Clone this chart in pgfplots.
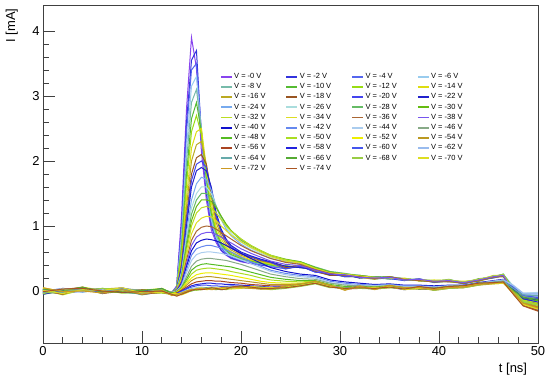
\documentclass[border=0pt]{standalone}
\usepackage{fontspec}
\setmainfont{Liberation Sans}
\usepackage{pgfplots}
\usepackage{pgfplotstable}
\pgfplotsset{compat=1.18}
\definecolor{c0}{HTML}{8844EE}\definecolor{c2}{HTML}{3333DD}\definecolor{c4}{HTML}{5566EE}\definecolor{c6}{HTML}{99CCEE}
\definecolor{c8}{HTML}{77BBAA}\definecolor{c10}{HTML}{55BB33}\definecolor{c12}{HTML}{99DD11}\definecolor{c14}{HTML}{DDDD11}
\definecolor{c16}{HTML}{BBAA22}\definecolor{c18}{HTML}{995522}\definecolor{c20}{HTML}{4444EE}\definecolor{c22}{HTML}{2222CC}
\definecolor{c24}{HTML}{77AAEE}\definecolor{c26}{HTML}{AADDDD}\definecolor{c28}{HTML}{66BB66}\definecolor{c30}{HTML}{66BB11}
\definecolor{c32}{HTML}{BBDD22}\definecolor{c34}{HTML}{DDDD22}\definecolor{c36}{HTML}{AA6633}\definecolor{c38}{HTML}{7755EE}
\definecolor{c40}{HTML}{1111CC}\definecolor{c42}{HTML}{6688EE}\definecolor{c44}{HTML}{AACCEE}\definecolor{c46}{HTML}{88AA88}
\definecolor{c48}{HTML}{55BB22}\definecolor{c50}{HTML}{AADD22}\definecolor{c52}{HTML}{EEEE00}\definecolor{c54}{HTML}{BB9922}
\definecolor{c56}{HTML}{AA4422}\definecolor{c58}{HTML}{2222DD}\definecolor{c60}{HTML}{4455EE}\definecolor{c62}{HTML}{99BBEE}
\definecolor{c64}{HTML}{66AAAA}\definecolor{c66}{HTML}{55AA33}\definecolor{c68}{HTML}{99CC44}\definecolor{c70}{HTML}{DDDD22}
\definecolor{c72}{HTML}{CC9922}\definecolor{c74}{HTML}{AA5522}
\pgfplotstableread{
t v0 v2 v4 v6 v8 v10 v12 v14 v16 v18 v20 v22 v24 v26 v28 v30 v32 v34 v36 v38 v40 v42 v44 v46 v48 v50 v52 v54 v56 v58 v60 v62 v64 v66 v68 v70 v72 v74
0 0.01 -0.03 0.02 -0.01 0.03 -0.02 0.00 0.04 -0.04 0.02 -0.01 0.03 -0.03 0.01 0.00 -0.05 0.02 0.05 -0.02 0.01 -0.04 0.03 0.00 -0.02 0.02 -0.03 0.04 -0.01 0.01 -0.05 0.02 0.00 -0.02 0.03 -0.04 0.01 0.05 -0.01
2 -0.03 0.01 -0.04 0.02 -0.01 0.03 -0.05 0.00 0.02 -0.03 0.04 -0.02 0.01 -0.04 0.03 0.00 -0.06 -0.01 0.02 -0.03 0.01 -0.02 0.04 -0.04 0.00 0.02 -0.03 0.03 -0.05 0.01 -0.01 0.03 -0.02 0.00 0.02 -0.04 -0.01 0.03
4 0.04 0.02 0.00 0.05 0.01 -0.01 0.03 0.06 0.00 0.04 0.02 0.05 -0.02 0.03 0.01 0.04 0.02 0.00 0.06 0.01 0.03 0.05 -0.01 0.02 0.04 0.00 0.03 0.01 0.05 0.02 0.04 -0.01 0.03 0.06 0.01 0.02 0.00 0.04
6 -0.01 0.03 0.01 -0.03 0.02 0.00 -0.04 0.01 0.03 -0.02 0.00 -0.03 0.04 -0.01 0.02 -0.02 0.01 0.03 -0.04 0.00 0.02 -0.01 0.03 -0.03 0.01 0.04 -0.02 0.00 -0.01 0.03 -0.03 0.02 0.00 -0.02 0.04 0.01 -0.03 0.00
8 0.02 -0.01 0.04 0.01 -0.02 0.03 0.02 -0.03 0.05 0.00 0.03 0.01 -0.01 0.04 0.02 0.03 -0.02 0.01 0.00 0.05 -0.01 0.02 0.01 0.04 -0.03 0.02 0.00 0.03 0.02 -0.02 0.04 0.01 0.03 -0.01 0.00 0.05 0.02 -0.02
10 -0.03 -0.05 0.00 -0.02 -0.04 0.01 -0.03 -0.01 -0.05 0.02 -0.02 -0.04 0.00 -0.03 -0.06 -0.01 0.01 -0.04 -0.02 -0.03 0.00 -0.05 -0.02 0.01 -0.03 -0.04 -0.01 -0.02 -0.05 0.00 -0.03 -0.01 -0.04 0.01 -0.02 -0.03 -0.05 -0.01
12 0.01 -0.02 0.03 0.00 0.02 -0.03 0.01 0.04 -0.01 0.02 0.00 -0.02 0.03 0.01 -0.01 0.02 0.04 -0.02 0.01 0.00 0.03 -0.01 0.02 0.00 0.04 -0.03 0.01 0.02 -0.02 0.03 0.00 0.01 -0.01 0.03 0.02 -0.02 0.01 0.00
13 -0.03 -0.05 -0.02 -0.04 -0.03 -0.05 -0.02 -0.04 -0.03 -0.05 -0.02 -0.04 -0.03 -0.05 -0.02 -0.04 -0.03 -0.05 -0.02 -0.04 -0.03 -0.05 -0.02 -0.04 -0.03 -0.05 -0.04 -0.06 -0.05 -0.06 -0.05 -0.04 -0.05 -0.03 -0.06 -0.04 -0.07 -0.05
13.5 0.08 0.05 0.06 0.04 0.05 0.03 0.04 0.03 0.03 0.02 0.03 0.02 0.02 0.02 0.02 0.01 0.02 0.01 0.01 0.00 0.00 -0.01 0.00 -0.01 -0.01 -0.02 -0.02 -0.03 -0.03 -0.04 -0.04 -0.05 -0.06 -0.05 -0.07 -0.04 -0.05 -0.08
14 1.17 1.00 0.95 0.85 0.75 0.65 0.60 0.50 0.45 0.40 0.38 0.35 0.30 0.28 0.25 0.22 0.20 0.18 0.15 0.13 0.12 0.10 0.08 0.06 0.05 0.04 0.03 0.02 0.01 0.00 -0.01 -0.02 -0.04 -0.05 -0.03 -0.06 -0.03 -0.05
14.5 2.81 2.60 2.45 2.20 2.00 1.80 1.65 1.45 1.30 1.15 1.10 1.00 0.90 0.82 0.75 0.68 0.62 0.55 0.48 0.42 0.38 0.33 0.28 0.22 0.18 0.15 0.12 0.09 0.06 0.04 0.03 0.01 -0.01 -0.02 0.00 -0.03 0.00 -0.02
15 3.90 3.55 3.40 3.15 2.90 2.65 2.45 2.20 2.00 1.80 1.70 1.60 1.40 1.28 1.18 1.08 1.00 0.88 0.78 0.70 0.62 0.55 0.47 0.38 0.32 0.26 0.20 0.16 0.11 0.08 0.06 0.04 0.02 0.00 0.03 0.01 0.02 0.01
15.5 3.43 3.70 3.50 3.30 3.10 2.90 2.70 2.45 2.25 2.05 1.95 1.85 1.65 1.50 1.40 1.30 1.20 1.05 0.92 0.83 0.74 0.65 0.56 0.46 0.38 0.32 0.25 0.20 0.14 0.10 0.08 0.05 0.03 0.02 0.01 0.04 0.02 0.03
16 2.15 2.40 2.45 2.45 2.50 2.45 2.40 2.50 2.30 2.10 2.00 1.90 1.75 1.60 1.50 1.40 1.28 1.12 0.98 0.88 0.78 0.68 0.59 0.49 0.41 0.34 0.27 0.21 0.15 0.11 0.09 0.06 0.04 0.03 0.02 0.05 0.04 0.02
16.5 1.40 1.50 1.60 1.65 1.70 1.75 1.80 1.90 1.95 1.95 1.90 1.85 1.72 1.60 1.50 1.40 1.30 1.15 1.00 0.90 0.80 0.70 0.60 0.50 0.42 0.35 0.28 0.22 0.16 0.12 0.09 0.05 0.03 0.05 0.04 0.02 0.04 0.03
17 0.94 1.00 1.05 1.10 1.15 1.20 1.25 1.35 1.45 1.50 1.55 1.60 1.55 1.50 1.45 1.38 1.28 1.14 0.99 0.90 0.79 0.70 0.60 0.50 0.41 0.35 0.28 0.22 0.16 0.12 0.08 0.06 0.04 0.03 0.05 0.03 0.02 0.05
17.5 0.74 0.78 0.80 0.82 0.85 0.90 0.92 0.98 1.05 1.12 1.15 1.20 1.30 1.30 1.30 1.28 1.20 1.08 0.95 0.87 0.77 0.68 0.59 0.49 0.40 0.34 0.27 0.21 0.15 0.11 0.08 0.05 0.03 0.02 0.04 0.05 0.03 0.04
18 0.62 0.63 0.66 0.68 0.70 0.72 0.75 0.80 0.85 0.90 0.92 0.95 1.10 1.12 1.15 1.15 1.10 1.00 0.90 0.83 0.74 0.66 0.58 0.48 0.39 0.33 0.26 0.20 0.15 0.11 0.07 0.04 0.02 0.04 0.03 0.04 0.05 0.02
18.5 0.55 0.56 0.58 0.60 0.62 0.63 0.65 0.68 0.72 0.76 0.78 0.80 0.95 0.98 1.02 1.03 1.00 0.93 0.85 0.78 0.70 0.63 0.56 0.47 0.38 0.32 0.25 0.19 0.14 0.10 0.07 0.05 0.03 0.05 0.02 0.04 0.06 0.03
19 0.50 0.51 0.52 0.54 0.55 0.56 0.58 0.60 0.63 0.66 0.68 0.70 0.85 0.88 0.92 0.93 0.92 0.86 0.80 0.74 0.66 0.60 0.54 0.45 0.37 0.30 0.24 0.18 0.13 0.10 0.08 0.06 0.05 0.06 0.04 0.03 0.05 0.06
20 0.45 0.46 0.47 0.48 0.49 0.50 0.51 0.53 0.55 0.57 0.58 0.60 0.72 0.75 0.78 0.80 0.80 0.76 0.70 0.65 0.58 0.52 0.48 0.41 0.33 0.27 0.21 0.16 0.12 0.09 0.07 0.05 0.05 0.07 0.06 0.04 0.05 0.08
21 0.42 0.43 0.44 0.45 0.46 0.46 0.47 0.48 0.50 0.52 0.53 0.54 0.63 0.66 0.69 0.70 0.70 0.67 0.62 0.58 0.50 0.45 0.42 0.36 0.29 0.24 0.18 0.14 0.10 0.08 0.06 0.05 0.04 0.05 0.06 0.07 0.04 0.06
22 0.40 0.40 0.41 0.42 0.42 0.43 0.44 0.45 0.46 0.47 0.48 0.49 0.56 0.58 0.61 0.62 0.62 0.60 0.56 0.52 0.43 0.38 0.36 0.31 0.25 0.20 0.15 0.12 0.09 0.07 0.06 0.04 0.04 0.03 0.05 0.06 0.03 0.04
23 0.37 0.38 0.38 0.39 0.40 0.40 0.41 0.42 0.43 0.44 0.44 0.45 0.50 0.52 0.54 0.55 0.55 0.53 0.50 0.46 0.36 0.32 0.30 0.26 0.21 0.17 0.13 0.10 0.08 0.06 0.05 0.04 0.03 0.04 0.02 0.05 0.03 0.04
24.5 0.35 0.38 0.34 0.37 0.36 0.39 0.35 0.37 0.38 0.36 0.34 0.38 0.45 0.47 0.48 0.49 0.48 0.46 0.44 0.41 0.30 0.27 0.25 0.22 0.18 0.15 0.12 0.10 0.08 0.07 0.06 0.05 0.05 0.07 0.04 0.06 0.08 0.05
26 0.38 0.36 0.39 0.37 0.40 0.36 0.38 0.39 0.37 0.40 0.38 0.36 0.42 0.44 0.45 0.45 0.44 0.43 0.41 0.39 0.26 0.24 0.22 0.19 0.16 0.14 0.12 0.11 0.10 0.09 0.08 0.09 0.08 0.10 0.07 0.09 0.11 0.08
27.5 0.30 0.33 0.29 0.32 0.31 0.34 0.30 0.32 0.33 0.30 0.29 0.33 0.35 0.36 0.37 0.36 0.35 0.34 0.33 0.32 0.24 0.22 0.20 0.18 0.16 0.15 0.14 0.13 0.12 0.13 0.12 0.14 0.12 0.14 0.11 0.13 0.15 0.12
29 0.27 0.25 0.28 0.26 0.24 0.27 0.25 0.28 0.26 0.24 0.27 0.25 0.29 0.30 0.30 0.29 0.28 0.28 0.27 0.26 0.17 0.15 0.13 0.12 0.10 0.09 0.08 0.07 0.08 0.06 0.07 0.08 0.06 0.08 0.05 0.07 0.09 0.06
30.5 0.23 0.26 0.22 0.25 0.24 0.22 0.25 0.23 0.26 0.24 0.22 0.25 0.26 0.27 0.27 0.26 0.25 0.26 0.24 0.25 0.14 0.12 0.10 0.09 0.07 0.05 0.04 0.05 0.03 0.04 0.05 0.03 0.04 0.02 0.05 0.03 0.01 0.04
32 0.22 0.20 0.23 0.21 0.24 0.22 0.20 0.23 0.21 0.24 0.22 0.20 0.23 0.24 0.23 0.24 0.22 0.23 0.22 0.21 0.12 0.10 0.09 0.08 0.06 0.07 0.05 0.06 0.04 0.07 0.05 0.06 0.05 0.07 0.04 0.06 0.08 0.05
33.5 0.19 0.22 0.20 0.18 0.21 0.19 0.22 0.20 0.18 0.21 0.20 0.22 0.21 0.20 0.22 0.21 0.20 0.21 0.19 0.20 0.10 0.09 0.08 0.07 0.05 0.04 0.06 0.03 0.05 0.04 0.03 0.05 0.04 0.06 0.03 0.05 0.02 0.04
35 0.21 0.19 0.22 0.20 0.18 0.22 0.20 0.19 0.22 0.21 0.19 0.20 0.22 0.21 0.20 0.22 0.21 0.20 0.22 0.21 0.11 0.10 0.09 0.08 0.07 0.06 0.08 0.05 0.07 0.06 0.08 0.07 0.06 0.08 0.05 0.07 0.09 0.06
36.5 0.17 0.19 0.18 0.16 0.19 0.17 0.18 0.20 0.17 0.18 0.16 0.19 0.19 0.18 0.19 0.18 0.17 0.19 0.18 0.17 0.09 0.08 0.07 0.06 0.05 0.04 0.03 0.05 0.04 0.02 0.04 0.05 0.03 0.05 0.04 0.02 0.05 0.03
38 0.18 0.16 0.17 0.19 0.16 0.18 0.17 0.15 0.18 0.17 0.19 0.16 0.17 0.18 0.17 0.16 0.18 0.17 0.16 0.18 0.09 0.08 0.07 0.06 0.05 0.06 0.04 0.05 0.03 0.05 0.06 0.04 0.05 0.03 0.06 0.04 0.05 0.07
39.5 0.14 0.16 0.15 0.13 0.16 0.14 0.15 0.17 0.14 0.15 0.13 0.16 0.15 0.16 0.15 0.14 0.16 0.15 0.14 0.15 0.08 0.07 0.06 0.05 0.03 0.02 0.04 0.01 0.03 0.02 0.04 0.03 0.02 0.04 0.01 0.03 0.02 0.04
41 0.16 0.14 0.17 0.15 0.16 0.18 0.15 0.16 0.14 0.17 0.16 0.15 0.16 0.17 0.16 0.15 0.17 0.16 0.15 0.16 0.09 0.08 0.08 0.07 0.06 0.05 0.07 0.04 0.06 0.05 0.07 0.06 0.05 0.07 0.04 0.06 0.05 0.07
42.5 0.12 0.14 0.13 0.11 0.14 0.12 0.13 0.15 0.12 0.13 0.11 0.14 0.13 0.14 0.13 0.12 0.14 0.13 0.12 0.13 0.09 0.08 0.08 0.07 0.07 0.06 0.08 0.05 0.07 0.06 0.08 0.07 0.06 0.08 0.05 0.07 0.06 0.08
44 0.17 0.15 0.18 0.16 0.17 0.19 0.16 0.17 0.15 0.18 0.17 0.16 0.17 0.18 0.17 0.16 0.18 0.17 0.16 0.17 0.13 0.12 0.12 0.11 0.11 0.10 0.12 0.09 0.11 0.10 0.12 0.11 0.10 0.12 0.09 0.11 0.10 0.12
45.5 0.21 0.23 0.22 0.20 0.23 0.21 0.22 0.24 0.21 0.22 0.20 0.23 0.22 0.23 0.22 0.21 0.23 0.22 0.21 0.22 0.16 0.15 0.15 0.14 0.13 0.12 0.14 0.11 0.13 0.12 0.14 0.15 0.14 0.12 0.13 0.11 0.12 0.13
46.5 0.24 0.22 0.25 0.23 0.24 0.26 0.23 0.24 0.22 0.25 0.24 0.23 0.24 0.25 0.26 0.24 0.25 0.24 0.23 0.24 0.18 0.17 0.17 0.16 0.14 0.13 0.15 0.12 0.14 0.13 0.15 0.17 0.15 0.13 0.14 0.12 0.13 0.14
47.5 0.02 0.06 0.00 0.04 0.03 -0.01 0.05 0.02 0.00 0.03 0.07 0.01 0.06 0.08 0.05 0.04 0.02 0.01 0.00 -0.02 0.05 0.07 0.09 0.04 0.02 0.00 -0.03 -0.01 -0.04 0.03 0.06 0.08 0.04 0.01 -0.02 -0.04 -0.03 -0.05
48.5 -0.18 -0.12 -0.20 -0.15 -0.14 -0.21 -0.10 -0.16 -0.19 -0.13 -0.08 -0.17 -0.06 -0.04 -0.09 -0.11 -0.14 -0.16 -0.18 -0.20 -0.10 -0.06 -0.03 -0.08 -0.12 -0.16 -0.20 -0.18 -0.22 -0.12 -0.07 -0.04 -0.06 -0.10 -0.17 -0.21 -0.19 -0.23
50 -0.28 -0.20 -0.30 -0.22 -0.21 -0.29 -0.15 -0.24 -0.27 -0.19 -0.12 -0.25 -0.06 -0.02 -0.10 -0.13 -0.18 -0.22 -0.25 -0.29 -0.14 -0.08 -0.03 -0.10 -0.15 -0.20 -0.27 -0.24 -0.30 -0.17 -0.10 -0.04 -0.07 -0.13 -0.22 -0.28 -0.26 -0.31
}\data
\begin{document}
\begin{tikzpicture}
\begin{axis}[
  scale only axis, width=495bp, height=338bp,
  xmin=0, xmax=50, ymin=-0.8, ymax=4.4,
  xtick={0,10,20,30,40,50}, ytick={0,1,2,3,4},
  minor x tick num=4, minor y tick num=4,
  tick pos=left, tick align=inside,
  major tick length=12bp, minor tick length=6bp,
  axis line style={black!75, line width=0.6bp},
  every tick/.style={black!75, line width=0.6bp},
  /pgf/number format/assume math mode=true,
  tick label style={font=\fontsize{13}{13}\selectfont},
  xlabel={t [ns]}, ylabel={I [mA]},
  label style={font=\fontsize{13}{13}\selectfont},
  xlabel style={at={(rel axis cs:0.985,-0.05)}, anchor=north east},
  ylabel style={at={(rel axis cs:-0.044,1)}, anchor=south east},
  every axis plot/.append style={line width=1bp, mark=none},
  legend columns=4,
  legend cell align=left,
  legend image code/.code={\draw[line width=1.8bp] (0bp,0bp) -- (11bp,0bp);},
  legend style={at={(0.357,0.803)}, anchor=north west, draw=none, fill=none,
    font=\fontsize{7.5}{7.5}\selectfont, inner sep=0bp, row sep=0.5bp,
    nodes={inner sep=1.5bp},
    /tikz/every even column/.append style={column sep=18.5bp}},
]
\addplot[c0] table[x=t,y=v0]{\data}; \addlegendentry{V = -0 V}
\addplot[c2] table[x=t,y=v2]{\data}; \addlegendentry{V = -2 V}
\addplot[c4] table[x=t,y=v4]{\data}; \addlegendentry{V = -4 V}
\addplot[c6] table[x=t,y=v6]{\data}; \addlegendentry{V = -6 V}
\addplot[c8] table[x=t,y=v8]{\data}; \addlegendentry{V = -8 V}
\addplot[c10] table[x=t,y=v10]{\data}; \addlegendentry{V = -10 V}
\addplot[c12] table[x=t,y=v12]{\data}; \addlegendentry{V = -12 V}
\addplot[c14] table[x=t,y=v14]{\data}; \addlegendentry{V = -14 V}
\addplot[c16] table[x=t,y=v16]{\data}; \addlegendentry{V = -16 V}
\addplot[c18] table[x=t,y=v18]{\data}; \addlegendentry{V = -18 V}
\addplot[c20] table[x=t,y=v20]{\data}; \addlegendentry{V = -20 V}
\addplot[c22] table[x=t,y=v22]{\data}; \addlegendentry{V = -22 V}
\addplot[c24] table[x=t,y=v24]{\data}; \addlegendentry{V = -24 V}
\addplot[c26] table[x=t,y=v26]{\data}; \addlegendentry{V = -26 V}
\addplot[c28] table[x=t,y=v28]{\data}; \addlegendentry{V = -28 V}
\addplot[c30] table[x=t,y=v30]{\data}; \addlegendentry{V = -30 V}
\addplot[c32] table[x=t,y=v32]{\data}; \addlegendentry{V = -32 V}
\addplot[c34] table[x=t,y=v34]{\data}; \addlegendentry{V = -34 V}
\addplot[c36] table[x=t,y=v36]{\data}; \addlegendentry{V = -36 V}
\addplot[c38] table[x=t,y=v38]{\data}; \addlegendentry{V = -38 V}
\addplot[c40] table[x=t,y=v40]{\data}; \addlegendentry{V = -40 V}
\addplot[c42] table[x=t,y=v42]{\data}; \addlegendentry{V = -42 V}
\addplot[c44] table[x=t,y=v44]{\data}; \addlegendentry{V = -44 V}
\addplot[c46] table[x=t,y=v46]{\data}; \addlegendentry{V = -46 V}
\addplot[c48] table[x=t,y=v48]{\data}; \addlegendentry{V = -48 V}
\addplot[c50] table[x=t,y=v50]{\data}; \addlegendentry{V = -50 V}
\addplot[c52] table[x=t,y=v52]{\data}; \addlegendentry{V = -52 V}
\addplot[c54] table[x=t,y=v54]{\data}; \addlegendentry{V = -54 V}
\addplot[c56] table[x=t,y=v56]{\data}; \addlegendentry{V = -56 V}
\addplot[c58] table[x=t,y=v58]{\data}; \addlegendentry{V = -58 V}
\addplot[c60] table[x=t,y=v60]{\data}; \addlegendentry{V = -60 V}
\addplot[c62] table[x=t,y=v62]{\data}; \addlegendentry{V = -62 V}
\addplot[c64] table[x=t,y=v64]{\data}; \addlegendentry{V = -64 V}
\addplot[c66] table[x=t,y=v66]{\data}; \addlegendentry{V = -66 V}
\addplot[c68] table[x=t,y=v68]{\data}; \addlegendentry{V = -68 V}
\addplot[c70] table[x=t,y=v70]{\data}; \addlegendentry{V = -70 V}
\addplot[c72] table[x=t,y=v72]{\data}; \addlegendentry{V = -72 V}
\addplot[c74] table[x=t,y=v74]{\data}; \addlegendentry{V = -74 V}
\end{axis}
\path (-43bp,-37bp) rectangle (507bp,343bp);
\end{tikzpicture}
\end{document}
